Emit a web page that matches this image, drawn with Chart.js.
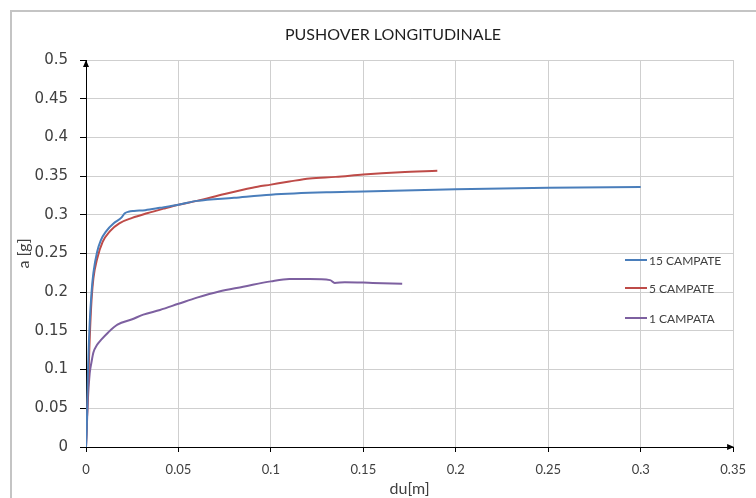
<!DOCTYPE html>
<html>
<head>
<meta charset="utf-8">
<script src="https://cdn.jsdelivr.net/npm/chart.js@4.4.1/dist/chart.umd.min.js"></script>
<style>
  html, body { margin: 0; padding: 0; background: #fff; }
  #wrap { position: relative; width: 756px; height: 498px; overflow: hidden; }
  #frame { position: absolute; left: 10px; top: 10px; width: 800px; height: 600px; border-left: 2px solid #c4c4c4; border-top: 2px solid #c4c4c4; box-sizing: border-box; }
  canvas { position: absolute; left: 0; top: 0; }
</style>
</head>
<body>
<div id="wrap">
  <div id="frame"></div>
  <canvas id="c" width="756" height="498"></canvas>
</div>
<script>
// ---- data ----
const chartTitle = 'PUSHOVER LONGITUDINALE';
const xTitle = 'du[m]';
const yTitle = 'a [g]';
const seriesNames = ['15 CAMPATE', '5 CAMPATE', '1 CAMPATA'];
const seriesColors = ['#4a7ebb', '#be4b48', '#7d60a0'];

const x15 = [0, 0.0004, 0.001, 0.002, 0.003, 0.004, 0.006, 0.008, 0.011, 0.015, 0.019, 0.021, 0.023, 0.026, 0.032, 0.04, 0.05, 0.06, 0.08, 0.1, 0.13, 0.15, 0.2, 0.25, 0.3];
const y15 = [0, 0.023, 0.09, 0.16, 0.2, 0.225, 0.252, 0.267, 0.279, 0.289, 0.296, 0.302, 0.304, 0.305, 0.306, 0.309, 0.313, 0.318, 0.322, 0.326, 0.329, 0.330, 0.333, 0.335, 0.336];

const x5 = [0, 0.001, 0.002, 0.003, 0.004, 0.006, 0.009, 0.013, 0.018, 0.025, 0.033, 0.042, 0.05, 0.06, 0.075, 0.09, 0.1, 0.11, 0.121, 0.135, 0.15, 0.17, 0.19];
const y5 = [0, 0.07, 0.14, 0.19, 0.218, 0.243, 0.265, 0.279, 0.289, 0.296, 0.302, 0.308, 0.313, 0.318, 0.327, 0.335, 0.339, 0.343, 0.347, 0.349, 0.352, 0.355, 0.357];

const x1 = [0, 0.0005, 0.001, 0.002, 0.003, 0.004, 0.006, 0.008, 0.012, 0.017, 0.025, 0.031, 0.04, 0.05, 0.06, 0.072, 0.085, 0.1, 0.11, 0.121, 0.132, 0.1345, 0.14, 0.155, 0.171];
const y1 = [0, 0.03, 0.06, 0.095, 0.11, 0.122, 0.132, 0.138, 0.148, 0.158, 0.165, 0.171, 0.177, 0.185, 0.193, 0.201, 0.207, 0.214, 0.217, 0.217, 0.2156, 0.212, 0.213, 0.212, 0.211];

const xTicks = [0, 0.05, 0.1, 0.15, 0.2, 0.25, 0.3, 0.35];
const yTicks = [0, 0.05, 0.1, 0.15, 0.2, 0.25, 0.3, 0.35, 0.4, 0.45, 0.5];

// ---- build ----
const xs = [x15, x5, x1];
const ys = [y15, y5, y1];
const datasets = seriesNames.map((name, i) => ({
  label: name,
  data: xs[i].map((x, k) => ({ x: x, y: ys[i][k] })),
  borderColor: seriesColors[i],
  backgroundColor: seriesColors[i],
  borderWidth: 2,
  pointRadius: 0,
  showLine: true,
  cubicInterpolationMode: 'monotone',
  fill: false
}));

const NARROW = "Lato, 'Open Sans', sans-serif";
const WIDE = "'DejaVu Sans', sans-serif";
const textColor = '#404040';

const decorations = {
  id: 'decorations',
  afterDraw(chart) {
    const ctx = chart.ctx;
    const a = chart.chartArea;
    ctx.save();
    // title
    ctx.fillStyle = '#1f1f1f';
    ctx.font = "16px " + NARROW;
    ctx.textAlign = 'center';
    ctx.textBaseline = 'middle';
    ctx.fillText(chartTitle, 393, 35);
    // arrows
    ctx.fillStyle = '#000';
    ctx.beginPath();
    ctx.moveTo(a.right + 1, a.bottom);
    ctx.lineTo(a.right - 6, a.bottom - 3);
    ctx.lineTo(a.right - 6, a.bottom + 3);
    ctx.closePath();
    ctx.fill();
    ctx.beginPath();
    ctx.moveTo(a.left, a.top);
    ctx.lineTo(a.left - 3, a.top + 7);
    ctx.lineTo(a.left + 3, a.top + 7);
    ctx.closePath();
    ctx.fill();
    // legend
    const ly = [260, 288, 318];
    ctx.font = "12px " + NARROW;
    ctx.textAlign = 'left';
    chart.data.datasets.forEach((ds, i) => {
      ctx.strokeStyle = ds.borderColor;
      ctx.lineWidth = 2;
      ctx.beginPath();
      ctx.moveTo(625, ly[i]);
      ctx.lineTo(647, ly[i]);
      ctx.stroke();
      ctx.fillStyle = textColor;
      ctx.fillText(ds.label, 649, ly[i] + 1);
    });
    ctx.restore();
  }
};

new Chart(document.getElementById('c'), {
  type: 'scatter',
  data: { datasets },
  options: {
    responsive: false,
    animation: false,
    devicePixelRatio: 1,
    layout: { padding: { left: 10, right: 12, top: 60, bottom: 0 } },
    plugins: {
      legend: { display: false },
      title: { display: false },
      tooltip: { enabled: false }
    },
    scales: {
      x: {
        type: 'linear',
        min: 0, max: 0.35,
        afterBuildTicks(scale) { scale.ticks = xTicks.map(v => ({ value: v })); },
        afterFit(scale) { scale.height = 51; },
        ticks: {
          color: textColor,
          font: { family: NARROW, size: 13 },
          padding: 10,
          maxRotation: 0,
          callback: v => String(v)
        },
        grid: {
          color: '#cfcfcf',
          borderDash: [1, 1],
          tickColor: '#000',
          tickBorderDash: [1, 0],
          tickLength: 5
        },
        border: { color: '#000', width: 1 },
        title: {
          display: true,
          text: xTitle,
          color: textColor,
          font: { family: NARROW, size: 16 },
          padding: { top: 0, bottom: 0 }
        }
      },
      y: {
        type: 'linear',
        min: 0, max: 0.5,
        afterBuildTicks(scale) { scale.ticks = yTicks.map(v => ({ value: v })); },
        afterFit(scale) { scale.width = 76; },
        ticks: {
          color: textColor,
          font: { family: WIDE, size: 15 },
          padding: 12,
          callback: v => String(v)
        },
        grid: {
          color: '#cfcfcf',
          borderDash: [1, 1],
          tickColor: '#000',
          tickBorderDash: [1, 0],
          tickLength: 6
        },
        border: { color: '#000', width: 1 },
        title: {
          display: true,
          text: yTitle,
          color: textColor,
          font: { family: NARROW, size: 16 },
          padding: { top: 4, bottom: 0 }
        }
      }
    }
  },
  plugins: [decorations]
});
</script>
</body>
</html>
